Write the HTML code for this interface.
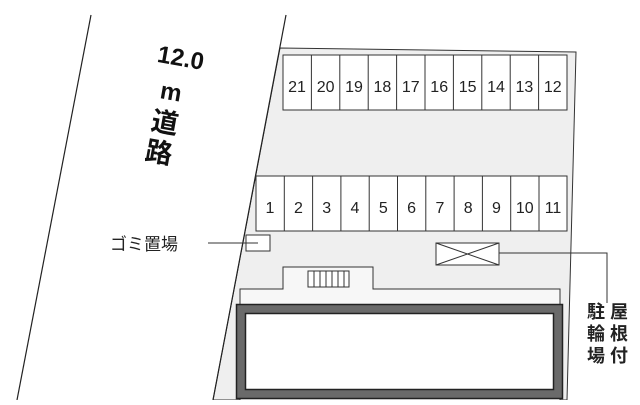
<!DOCTYPE html>
<html><head><meta charset="utf-8"><style>
html,body{margin:0;padding:0;background:#fff;}
svg text{font-family:"Liberation Sans","Noto Sans CJK JP",sans-serif;}
</style></head><body>
<svg width="640" height="400" viewBox="0 0 640 400" xmlns="http://www.w3.org/2000/svg">
<rect width="640" height="400" fill="#fff"/>
<polygon points="280,48 576,52 567,400 213,400" fill="#efefef" stroke="#333" stroke-width="1"/>
<line x1="91" y1="15" x2="17" y2="400" stroke="#222" stroke-width="1.2"/>
<line x1="286" y1="15" x2="213" y2="400" stroke="#222" stroke-width="1.2"/>
<g fill="#fff" stroke="#333" stroke-width="1">
<rect x="283" y="55" width="284" height="55"/>
<rect x="256" y="176" width="311" height="55"/>
<rect x="246" y="235" width="24" height="16"/>
<rect x="436" y="243" width="63" height="22"/>
</g>
<g stroke="#333" stroke-width="1">
<line x1="311.4" y1="55" x2="311.4" y2="110"/><line x1="339.8" y1="55" x2="339.8" y2="110"/><line x1="368.2" y1="55" x2="368.2" y2="110"/><line x1="396.6" y1="55" x2="396.6" y2="110"/><line x1="425" y1="55" x2="425" y2="110"/><line x1="453.4" y1="55" x2="453.4" y2="110"/><line x1="481.8" y1="55" x2="481.8" y2="110"/><line x1="510.2" y1="55" x2="510.2" y2="110"/><line x1="538.6" y1="55" x2="538.6" y2="110"/>
<line x1="284.3" y1="176" x2="284.3" y2="231"/><line x1="312.6" y1="176" x2="312.6" y2="231"/><line x1="340.9" y1="176" x2="340.9" y2="231"/><line x1="369.2" y1="176" x2="369.2" y2="231"/><line x1="397.5" y1="176" x2="397.5" y2="231"/><line x1="425.8" y1="176" x2="425.8" y2="231"/><line x1="454.1" y1="176" x2="454.1" y2="231"/><line x1="482.4" y1="176" x2="482.4" y2="231"/><line x1="510.7" y1="176" x2="510.7" y2="231"/><line x1="539" y1="176" x2="539" y2="231"/>
<line x1="436" y1="243" x2="499" y2="265"/><line x1="436" y1="265" x2="499" y2="243"/>
<polyline points="499,253 607,253 607,303" fill="none"/>
<line x1="208" y1="243" x2="258" y2="243"/>
</g>
<g font-size="16" fill="#222" text-anchor="middle">
<text x="297" y="92">21</text><text x="325.6" y="92">20</text><text x="354" y="92">19</text><text x="382.4" y="92">18</text><text x="410.8" y="92">17</text><text x="439.2" y="92">16</text><text x="467.6" y="92">15</text><text x="496" y="92">14</text><text x="524.4" y="92">13</text><text x="552.8" y="92">12</text>
<text x="270" y="213">1</text><text x="298.4" y="213">2</text><text x="326.7" y="213">3</text><text x="355" y="213">4</text><text x="383.3" y="213">5</text><text x="411.6" y="213">6</text><text x="440" y="213">7</text><text x="468.2" y="213">8</text><text x="496.5" y="213">9</text><text x="524.8" y="213">10</text><text x="553" y="213">11</text>
</g>
<path d="M240,400 V289 H283 V267 H373 V289 H560 V400" fill="#f7f7f7" stroke="#333" stroke-width="1"/>
<rect x="308" y="271" width="41" height="16" fill="#fff" stroke="#333"/>
<g stroke="#333"><line x1="314" y1="271" x2="314" y2="287"/><line x1="320" y1="271" x2="320" y2="287"/><line x1="326" y1="271" x2="326" y2="287"/><line x1="332" y1="271" x2="332" y2="287"/><line x1="338" y1="271" x2="338" y2="287"/><line x1="344" y1="271" x2="344" y2="287"/></g>
<rect x="241" y="309" width="317" height="85" fill="#fff" stroke="#6a6a6a" stroke-width="8"/>
<rect x="236.5" y="304.5" width="326" height="94" fill="none" stroke="#222" stroke-width="1.5"/>
<rect x="245.5" y="313.5" width="308" height="76" fill="none" stroke="#222" stroke-width="1.5"/>
<text x="110" y="250" font-size="17" fill="#222">ゴミ置場</text>
<g font-size="18" fill="#222" text-anchor="middle" font-weight="bold">
<text x="596" y="318">駐</text><text x="596" y="340">輪</text><text x="596" y="362">場</text>
<text x="619" y="318">屋</text><text x="619" y="340">根</text><text x="619" y="362">付</text>
</g>
<g font-size="24" fill="#111" text-anchor="middle">
<text x="181" y="66" transform="rotate(10 181 57)" font-weight="600">12.0</text>
<text x="171" y="100" transform="rotate(10 171 92)" font-weight="bold">m</text>
<text x="165" y="132" font-size="27" font-weight="bold" transform="rotate(10 165 122)">道</text>
<text x="159" y="162" font-size="27" font-weight="bold" transform="rotate(10 159 152)">路</text>
</g>
</svg>
</body></html>
